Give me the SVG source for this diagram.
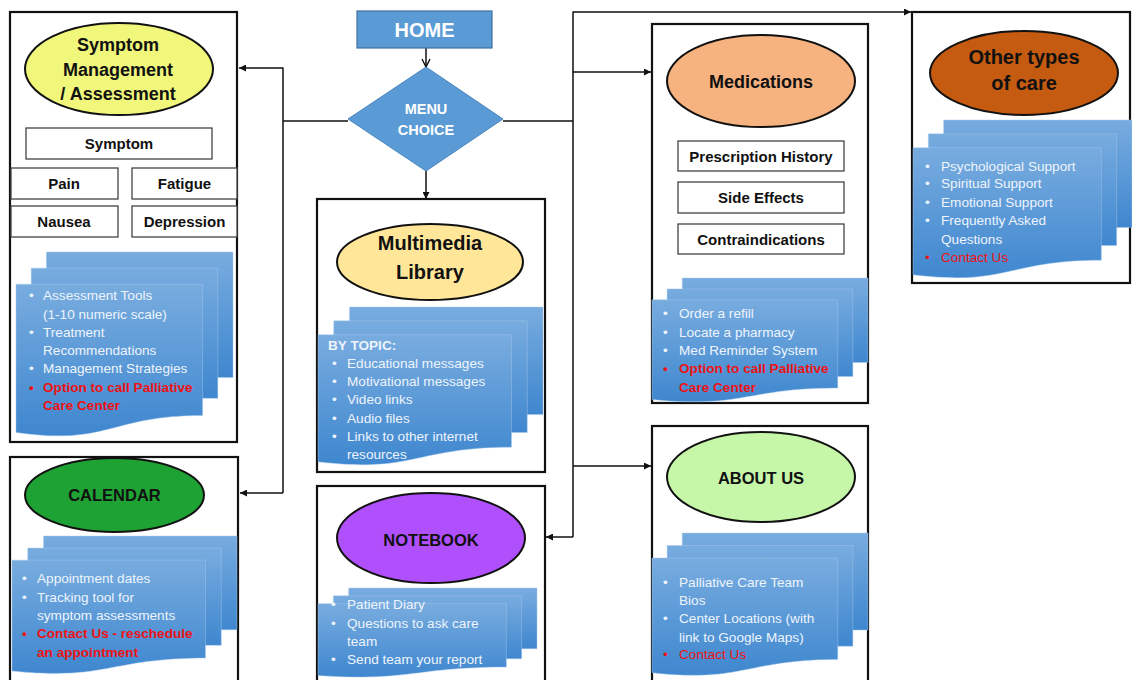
<svg xmlns="http://www.w3.org/2000/svg" xmlns:xlink="http://www.w3.org/1999/xlink" width="1132" height="680" viewBox="0 0 1132 680">
<style>
.box{fill:#fff;stroke:#111;stroke-width:2.2}
.sub{fill:#fff;stroke:#444;stroke-width:1.3}
.ell{stroke:#111;stroke-width:2}
text{font-family:"Liberation Sans",Arial,sans-serif}
.h{font-weight:bold;fill:#111;text-anchor:middle}
.h18{font-size:18px}
.h20{font-size:20px}
.h16{font-size:16.5px}
.s15{font-size:15px}
.li{font-size:13.6px;fill:#eef4fc}
.red{fill:#ee1313;font-weight:bold}
.conn{stroke:#111;stroke-width:1.5;fill:none}
.lay{fill:url(#bg);stroke:#a8c8ec;stroke-opacity:0.55;stroke-width:0.8}
</style>
<defs>
<linearGradient id="bg" x1="0" y1="0" x2="0" y2="1">
<stop offset="0" stop-color="#78acdf"/>
<stop offset="1" stop-color="#3f87cf"/>
</linearGradient>
<marker id="ah" viewBox="0 0 10 10" refX="10" refY="5" markerWidth="8" markerHeight="7" markerUnits="userSpaceOnUse" orient="auto"><path d="M0,0 L10,5 L0,10 z" fill="#111"/></marker>
<marker id="av" viewBox="0 0 10 10" refX="9" refY="5" markerWidth="10" markerHeight="10" markerUnits="userSpaceOnUse" orient="auto"><path d="M1,1 L9,5 L1,9" fill="none" stroke="#111" stroke-width="1.4"/></marker>
<g id="md">
<path class="lay" vector-effect="non-scaling-stroke" d="M0.14,0 H1 V0.66 H0.14 Z"/>
<path class="lay" vector-effect="non-scaling-stroke" d="M0.07,0.085 H0.93 V0.77 H0.07 Z"/>
<path class="lay" vector-effect="non-scaling-stroke" d="M0,0.17 H0.86 V0.86 C0.43,0.86 0.43,1.02 0,0.95 Z"/>
</g>
</defs>
<rect width="1132" height="680" fill="#fff"/>

<g id="connectors">
<line class="conn" x1="426" y1="48" x2="426" y2="67" marker-end="url(#av)"/>
<line class="conn" x1="426" y1="171" x2="426" y2="199" marker-end="url(#ah)"/>
<path class="conn" d="M348,121 H283 M283,67.5 V493"/>
<line class="conn" x1="283" y1="68" x2="239" y2="68" marker-end="url(#ah)"/>
<line class="conn" x1="283" y1="493" x2="240" y2="493" marker-end="url(#ah)"/>
<path class="conn" d="M503,121 H573 M573,11.5 V537"/>
<line class="conn" x1="573" y1="12" x2="911" y2="12" marker-end="url(#ah)"/>
<line class="conn" x1="573" y1="72" x2="651" y2="72" marker-end="url(#ah)"/>
<line class="conn" x1="573" y1="466" x2="651" y2="466" marker-end="url(#ah)"/>
<line class="conn" x1="573" y1="537" x2="546" y2="537" marker-end="url(#ah)"/>
</g>

<g id="home">
<rect x="357" y="11" width="135" height="37" fill="#5b9bd5" stroke="#41719c" stroke-width="1.2"/>
<text x="424.5" y="37" class="h h20" style="fill:#fff">HOME</text>
</g>

<g id="menu">
<path d="M426,67 L503,119 L426,171 L348,119 Z" fill="#5b9bd5" stroke="#4a86c0" stroke-width="1"/>
<text x="426" y="114" class="h" style="fill:#fff;font-size:14.5px">MENU</text>
<text x="426" y="135" class="h" style="fill:#fff;font-size:14.5px">CHOICE</text>
</g>

<g id="symptom">
<rect class="box" x="10" y="12" width="227" height="430"/>
<ellipse class="ell" cx="119" cy="69" rx="94" ry="46" fill="#f0f77a"/>
<text class="h h18" x="118" y="51">Symptom</text>
<text class="h h18" x="118" y="76">Management</text>
<text class="h h18" x="118" y="100">/ Assessment</text>
<rect class="sub" x="26" y="128" width="186" height="31"/>
<text class="h s15" x="119" y="149">Symptom</text>
<rect class="sub" x="11" y="168" width="107" height="31"/>
<text class="h s15" x="64" y="189">Pain</text>
<rect class="sub" x="132" y="168" width="105" height="31"/>
<text class="h s15" x="184.5" y="189">Fatigue</text>
<rect class="sub" x="11" y="206" width="107" height="31"/>
<text class="h s15" x="64" y="227">Nausea</text>
<rect class="sub" x="132" y="206" width="105" height="31"/>
<text class="h s15" x="184.5" y="227">Depression</text>
<use xlink:href="#md" transform="translate(16,252) scale(217,190)"/>
<text x="29" y="300" class="li">•</text><text x="43" y="300" class="li">Assessment Tools</text>
<text x="43" y="319" class="li">(1-10 numeric scale)</text>
<text x="29" y="337" class="li">•</text><text x="43" y="337" class="li">Treatment</text>
<text x="43" y="355" class="li">Recommendations</text>
<text x="29" y="373" class="li">•</text><text x="43" y="373" class="li">Management Strategies</text>
<text x="29" y="392" class="li red">•</text><text x="43" y="392" class="li red">Option to call Palliative</text>
<text x="43" y="410" class="li red">Care Center</text>
</g>

<g id="multimedia">
<rect class="box" x="317" y="199" width="228" height="273"/>
<ellipse class="ell" cx="430" cy="262" rx="93" ry="38" fill="#ffe699"/>
<text class="h h20" x="430" y="250">Multimedia</text>
<text class="h h20" x="430" y="279">Library</text>
<use xlink:href="#md" transform="translate(318,307) scale(225,163)"/>
<text x="328" y="350" class="li" style="font-weight:bold">BY TOPIC:</text>
<text x="332" y="368" class="li">•</text><text x="347" y="368" class="li">Educational messages</text>
<text x="332" y="386" class="li">•</text><text x="347" y="386" class="li">Motivational messages</text>
<text x="332" y="404" class="li">•</text><text x="347" y="404" class="li">Video links</text>
<text x="332" y="423" class="li">•</text><text x="347" y="423" class="li">Audio files</text>
<text x="332" y="441" class="li">•</text><text x="347" y="441" class="li">Links to other internet</text>
<text x="347" y="459" class="li">resources</text>
</g>

<g id="medications">
<rect class="box" x="652" y="24" width="216" height="379"/>
<ellipse class="ell" cx="761" cy="81" rx="94" ry="46" fill="#f6b27f"/>
<text class="h h18" x="761" y="88">Medications</text>
<rect class="sub" x="678" y="141" width="166" height="30"/>
<text class="h s15" x="761" y="161.5">Prescription History</text>
<rect class="sub" x="678" y="182" width="166" height="31"/>
<text class="h s15" x="761" y="203">Side Effects</text>
<rect class="sub" x="678" y="224" width="166" height="30"/>
<text class="h s15" x="761" y="244.5">Contraindications</text>
<use xlink:href="#md" transform="translate(652,278) scale(216,128)"/>
<text x="663" y="318" class="li">•</text><text x="679" y="318" class="li">Order a refill</text>
<text x="663" y="337" class="li">•</text><text x="679" y="337" class="li">Locate a pharmacy</text>
<text x="663" y="355" class="li">•</text><text x="679" y="355" class="li">Med Reminder System</text>
<text x="663" y="373" class="li red">•</text><text x="679" y="373" class="li red">Option to call Palliative</text>
<text x="679" y="392" class="li red">Care Center</text>
</g>

<g id="othercare">
<rect class="box" x="912" y="12" width="218" height="271"/>
<ellipse class="ell" cx="1024" cy="73" rx="94" ry="42" fill="#c55a11"/>
<text class="h h20" x="1024" y="64">Other types</text>
<text class="h h20" x="1024" y="90">of care</text>
<use xlink:href="#md" transform="translate(913,120) scale(219,163)"/>
<text x="925" y="171" class="li">•</text><text x="941" y="171" class="li">Psychological Support</text>
<text x="925" y="188" class="li">•</text><text x="941" y="188" class="li">Spiritual Support</text>
<text x="925" y="207" class="li">•</text><text x="941" y="207" class="li">Emotional Support</text>
<text x="925" y="225" class="li">•</text><text x="941" y="225" class="li">Frequently Asked</text>
<text x="941" y="244" class="li">Questions</text>
<text x="925" y="262" class="li" style="fill:#ee1313">•</text><text x="941" y="262" class="li" style="fill:#ee1313">Contact Us</text>
</g>

<g id="calendar">
<rect class="box" x="10" y="457" width="228" height="240"/>
<ellipse class="ell" cx="114.5" cy="495" rx="89.5" ry="37" fill="#1fa234"/>
<text class="h h16" x="114.5" y="501">CALENDAR</text>
<use xlink:href="#md" transform="translate(12,536) scale(225,142)"/>
<text x="22" y="583" class="li">•</text><text x="37" y="583" class="li">Appointment dates</text>
<text x="22" y="602" class="li">•</text><text x="37" y="602" class="li">Tracking tool for</text>
<text x="37" y="620" class="li">symptom assessments</text>
<text x="22" y="638" class="li red">•</text><text x="37" y="638" class="li red">Contact Us - reschedule</text>
<text x="37" y="657" class="li red">an appointment</text>
</g>

<g id="notebook">
<rect class="box" x="317" y="486" width="228" height="210"/>
<ellipse class="ell" cx="431" cy="538" rx="94" ry="45" fill="#b050fc"/>
<text class="h h16" x="431" y="546">NOTEBOOK</text>
<use xlink:href="#md" transform="translate(318,588) scale(219,92)"/>
<text x="331" y="609" class="li">•</text><text x="347" y="609" class="li">Patient Diary</text>
<text x="331" y="628" class="li">•</text><text x="347" y="628" class="li">Questions to ask care</text>
<text x="347" y="646" class="li">team</text>
<text x="331" y="664" class="li">•</text><text x="347" y="664" class="li">Send team your report</text>
</g>

<g id="aboutus">
<rect class="box" x="652" y="426" width="216" height="270"/>
<ellipse class="ell" cx="761" cy="477" rx="94" ry="45" fill="#c6f7a9"/>
<text class="h h16" x="761" y="484">ABOUT US</text>
<use xlink:href="#md" transform="translate(652,533) scale(216,147)"/>
<text x="663" y="587" class="li">•</text><text x="679" y="587" class="li">Palliative Care Team</text>
<text x="679" y="605" class="li">Bios</text>
<text x="663" y="623" class="li">•</text><text x="679" y="623" class="li">Center Locations (with</text>
<text x="679" y="642" class="li">link to Google Maps)</text>
<text x="663" y="659" class="li" style="fill:#ee1313">•</text><text x="679" y="659" class="li" style="fill:#ee1313">Contact Us</text>
</g>
</svg>
